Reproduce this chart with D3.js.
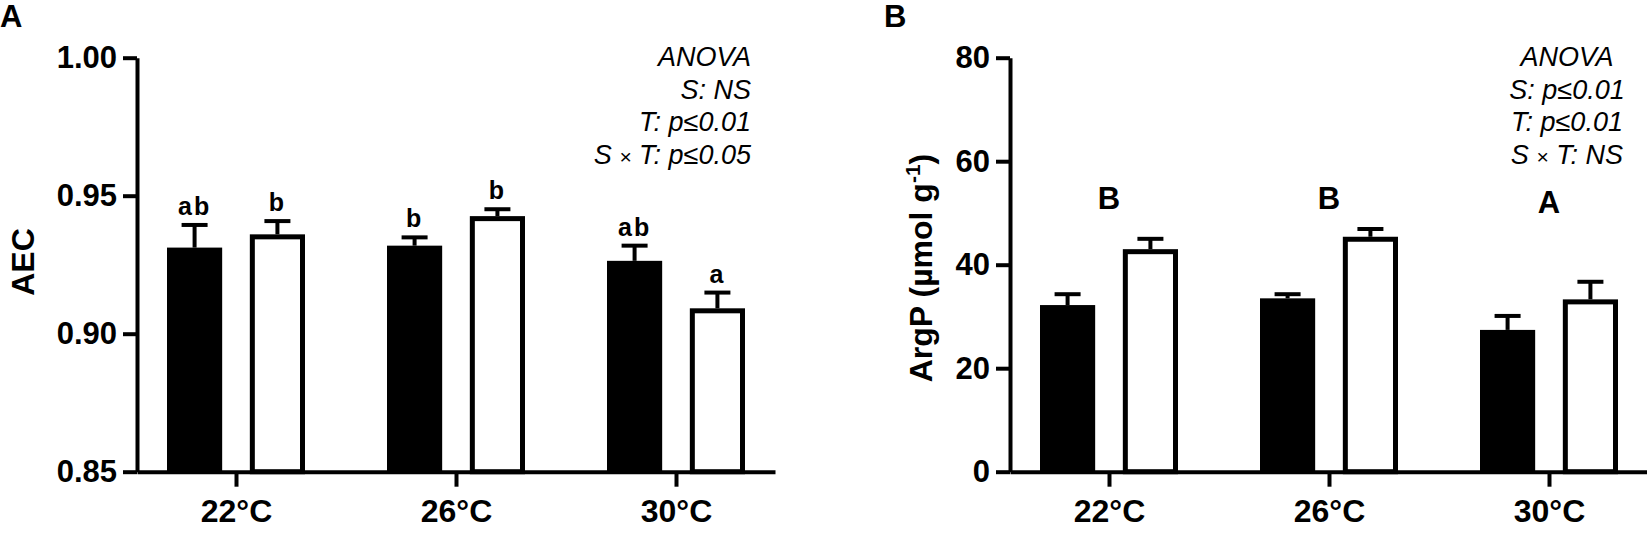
<!DOCTYPE html>
<html>
<head>
<meta charset="utf-8">
<script src="https://cdn.jsdelivr.net/npm/d3@7"></script>
<style>
  body { margin: 0; background: #fff; }
  svg { display: block; font-family: "Liberation Sans", Arial, Helvetica, sans-serif; }
  .axis .domain, .axis .tick line { stroke: #000; stroke-width: 4; }
  .axis .tick text { font-size: 31px; font-weight: bold; fill: #000; }
</style>
</head>
<body>
<div id="chart"></div>
<script>
// categories and series
var categories = ['22°C', '26°C', '30°C'];
var series = ['filled', 'open'];

// panel A: AEC
var aecFilled = [0.9312, 0.9319, 0.9264];
var aecFilledErr = [0.0082, 0.0030, 0.0055];
var aecOpen = [0.9360, 0.9426, 0.9092];
var aecOpenErr = [0.0048, 0.0025, 0.0057];
var aecLetters = [['ab', 'b'], ['b', 'b'], ['ab', 'a']];
var aecTicks = [0.85, 0.90, 0.95, 1.00];
var aecAnova = ['ANOVA', 'S: NS', 'T: p≤0.01', 'S × T: p≤0.05'];

// panel B: ArgP
var argpFilled = [32.2, 33.5, 27.4];
var argpFilledErr = [2.1, 0.8, 2.7];
var argpOpen = [43.0, 45.4, 33.3];
var argpOpenErr = [2.0, 1.5, 3.4];
var argpLetters = ['B', 'B', 'A'];
var argpTicks = [0, 20, 40, 60, 80];
var argpAnova = ['ANOVA', 'S: p≤0.01', 'T: p≤0.01', 'S × T: NS'];

var W = 1647, H = 534;
var svg = d3.select('#chart').append('svg')
  .attr('width', W)
  .attr('height', H);

function drawPanel(cfg) {
  var g = svg.append('g');

  var y = d3.scaleLinear().domain(cfg.domain).range([471.7, 57.7]);
  var x = d3.scalePoint().domain(categories).range([cfg.left, cfg.right]).padding(0.45);
  var sub = d3.scaleBand().domain(series).range([-69, 69]).paddingInner(0.334);

  var rows = categories.map(function(c, i) {
    return [
      { cat: c, s: 'filled', v: cfg.filled[i], e: cfg.filledErr[i] },
      { cat: c, s: 'open', v: cfg.open[i], e: cfg.openErr[i] }
    ];
  });
  var flat = d3.merge(rows);

  // bars (open bars keep their outline inside the band)
  var sw = 5;
  g.append('g').selectAll('rect')
    .data(flat)
    .enter()
    .append('rect')
    .attr('x', function(d) {
      var x0 = x(d.cat) + sub(d.s);
      return d.s === 'open' ? x0 + sw / 2 : x0;
    })
    .attr('width', function(d) {
      return d.s === 'open' ? sub.bandwidth() - sw : sub.bandwidth();
    })
    .attr('y', function(d) { return d.s === 'open' ? y(d.v) + sw / 2 : y(d.v); })
    .attr('height', function(d) {
      return d.s === 'open' ? y(cfg.domain[0]) - y(d.v) - sw / 2 : y(cfg.domain[0]) - y(d.v);
    })
    .attr('fill', function(d) { return d.s === 'open' ? '#fff' : '#000'; })
    .attr('stroke', function(d) { return d.s === 'open' ? '#000' : 'none'; })
    .attr('stroke-width', sw);

  // error bars (upper only)
  var err = g.append('g').selectAll('g')
    .data(flat)
    .enter()
    .append('g')
    .attr('transform', function(d) {
      return 'translate(' + (x(d.cat) + sub(d.s) + sub.bandwidth() / 2) + ',0)';
    });
  err.append('line')
    .attr('x1', 0).attr('x2', 0)
    .attr('y1', function(d) { return y(d.v); })
    .attr('y2', function(d) { return y(d.v + d.e); })
    .attr('stroke', '#000').attr('stroke-width', 4);
  err.append('line')
    .attr('x1', -13).attr('x2', 13)
    .attr('y1', function(d) { return y(d.v + d.e); })
    .attr('y2', function(d) { return y(d.v + d.e); })
    .attr('stroke', '#000').attr('stroke-width', 4);

  // axes
  var yAxis = d3.axisLeft(y)
    .tickValues(cfg.ticks)
    .tickFormat(cfg.format)
    .tickSize(14)
    .tickSizeOuter(0)
    .tickPadding(6);
  g.append('g')
    .attr('class', 'axis')
    .attr('transform', 'translate(' + cfg.left + ',0)')
    .call(yAxis);

  var xAxis = d3.axisBottom(x).tickSize(15).tickSizeOuter(0).tickPadding(13);
  g.append('g')
    .attr('class', 'axis')
    .attr('transform', 'translate(0,' + y(cfg.domain[0]) + ')')
    .call(xAxis)
    .selectAll('.tick text')
    .style('font-size', '32px');

  // significance letters
  if (cfg.pairLetters) {
    g.append('g').selectAll('text')
      .data(flat)
      .enter()
      .append('text')
      .attr('x', function(d) { return x(d.cat) + sub(d.s) + sub.bandwidth() / 2; })
      .attr('y', function(d) { return y(d.v + d.e) - 10; })
      .attr('text-anchor', 'middle')
      .style('font-size', '25px')
      .style('font-weight', 'bold')
      .style('letter-spacing', '2px')
      .text(function(d) {
        var i = categories.indexOf(d.cat);
        return cfg.pairLetters[i][series.indexOf(d.s)];
      });
  }
  if (cfg.groupLetters) {
    g.append('g').selectAll('text')
      .data(categories)
      .enter()
      .append('text')
      .attr('x', function(d) { return x(d); })
      .attr('y', function(d, i) { return cfg.groupLetters[i] === 'A' ? 213 : 209; })
      .attr('text-anchor', 'middle')
      .style('font-size', '31px')
      .style('font-weight', 'bold')
      .text(function(d, i) { return cfg.groupLetters[i]; });
  }

  // ANOVA block
  var an = g.append('text')
    .attr('text-anchor', cfg.anovaAnchor)
    .style('font-size', '27px')
    .style('font-style', 'italic');
  cfg.anova.forEach(function(line, i) {
    var t = an.append('tspan')
      .attr('x', cfg.anovaX)
      .attr('y', 66 + i * 32.7);
    line.split('×').forEach(function(part, j) {
      if (j > 0) t.append('tspan').style('font-size', '21px').text('×');
      t.append('tspan').text(part);
    });
  });

  // y title
  var title = g.append('text')
    .attr('transform', 'translate(' + cfg.titleX + ',' + cfg.titleY + ') rotate(-90)')
    .attr('text-anchor', 'middle')
    .style('font-size', '32px')
    .style('font-weight', 'bold');
  cfg.title.forEach(function(p) {
    var t = title.append('tspan').text(p.t);
    if (p.sup) t.attr('dy', -12).style('font-size', '21px');
    if (p.after) t.attr('dy', 12);
  });

  // panel letter
  g.append('text')
    .attr('x', cfg.letterX)
    .attr('y', 27)
    .style('font-size', '31px')
    .style('font-weight', 'bold')
    .text(cfg.letter);
}

drawPanel({
  left: 137, right: 775,
  domain: [0.85, 1.00],
  ticks: aecTicks,
  format: d3.format('.2f'),
  filled: aecFilled, filledErr: aecFilledErr,
  open: aecOpen, openErr: aecOpenErr,
  pairLetters: aecLetters,
  anova: aecAnova, anovaAnchor: 'end', anovaX: 751,
  title: [{ t: 'AEC' }],
  titleX: 34, titleY: 262,
  letter: 'A', letterX: 0
});

drawPanel({
  left: 1010, right: 1648,
  domain: [0, 80],
  ticks: argpTicks,
  format: d3.format('d'),
  filled: argpFilled, filledErr: argpFilledErr,
  open: argpOpen, openErr: argpOpenErr,
  groupLetters: argpLetters,
  anova: argpAnova, anovaAnchor: 'middle', anovaX: 1567,
  title: [{ t: 'ArgP (µmol g' }, { t: '-1', sup: true }, { t: ')', after: true }],
  titleX: 932, titleY: 268,
  letter: 'B', letterX: 884
});
</script>
</body>
</html>
